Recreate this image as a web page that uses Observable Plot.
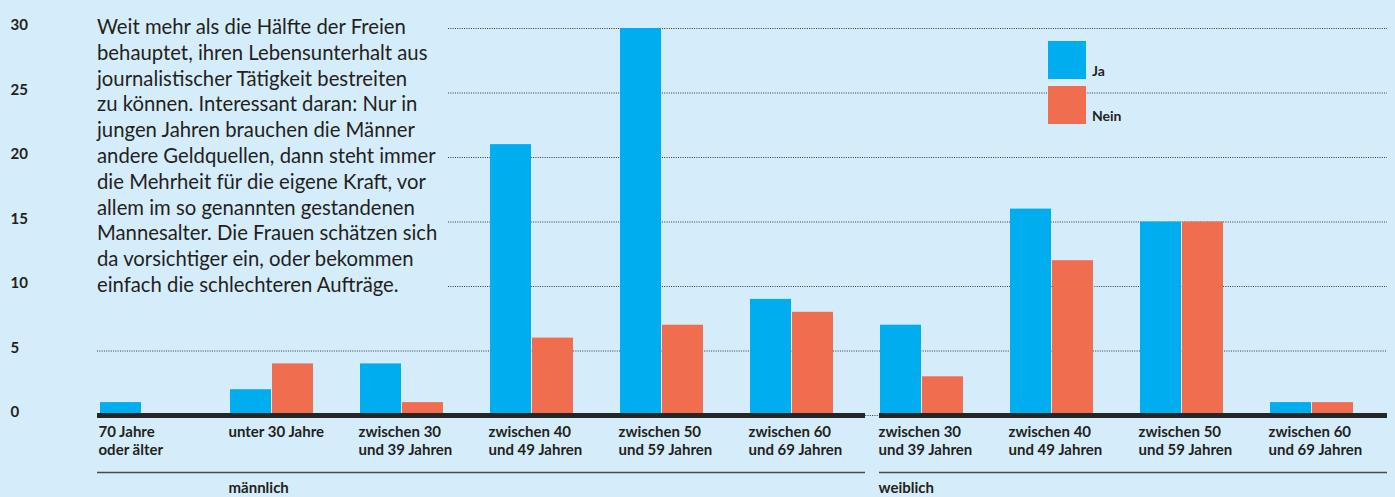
<!DOCTYPE html>
<html lang="de">
<head>
<meta charset="utf-8">
<script src="https://cdn.jsdelivr.net/npm/d3@7"></script>
<script src="https://cdn.jsdelivr.net/npm/@observablehq/plot@0.6"></script>
<style>
  html, body { margin: 0; padding: 0; background: #d5edfa; }
  #wrap { position: relative; width: 1395px; height: 497px; overflow: hidden;
          font-family: Lato, "Open Sans", sans-serif; color: #231f20; }
  #chart svg { display: block; }
  #note { position: absolute; left: 97px; top: 14px; font-size: 20.3px; line-height: 25.8px; white-space: nowrap; }
  #legend { position: absolute; left: 1048px; top: 41px; }
  #legend .item { display: flex; align-items: flex-end; height: 38px; margin-bottom: 7px; }
  #legend .sw { width: 38px; height: 38px; }
  #legend .lbl { margin-left: 6px; font-weight: bold; font-size: 14px; line-height: 1; margin-bottom: 1px; }
</style>
</head>
<body>
<div id="wrap">
  <div id="chart"></div>
  <div id="note">Weit mehr als die Hälfte der Freien<br>behauptet, ihren Lebensunterhalt aus<br>journalistischer Tätigkeit bestreiten<br>zu können. Interessant daran: Nur in<br>jungen Jahren brauchen die Männer<br>andere Geldquellen, dann steht immer<br>die Mehrheit für die eigene Kraft, vor<br>allem im so genannten gestandenen<br>Mannesalter. Die Frauen schätzen sich<br>da vorsichtiger ein, oder bekommen<br>einfach die schlechteren Aufträge.</div>
  <div id="legend"></div>
</div>
<script>
// Age groups per gender (tick labels, two lines where needed)
const maleAges = ["70 Jahre\noder älter", "unter 30 Jahre", "zwischen 30\nund 39 Jahren",
                  "zwischen 40\nund 49 Jahren", "zwischen 50\nund 59 Jahren", "zwischen 60\nund 69 Jahren"];
const femaleAges = ["zwischen 30\nund 39 Jahren", "zwischen 40\nund 49 Jahren",
                    "zwischen 50\nund 59 Jahren", "zwischen 60\nund 69 Jahren"];

// Answers: can they live from journalism? (counts)
const maleJa = [1, 2, 4, 21, 30, 9];
const maleNein = [0, 4, 1, 6, 7, 8];
const femaleJa = [7, 16, 15, 1];
const femaleNein = [3, 12, 15, 1];

const genders = ["männlich", "weiblich"];
const genderLabelAt = ["unter 30 Jahre", "zwischen 30\nund 39 Jahren"];
const seriesNames = ["Ja", "Nein"];
const seriesColors = ["#00aeef", "#f06d4f"];
const yTicks = [0, 5, 10, 15, 20, 25, 30];

// Build the table: one row per gender/age group
const rows = [];
maleAges.forEach((age, i) => rows.push({key: `${genders[0]}|${age}`, ja: maleJa[i], nein: maleNein[i]}));
femaleAges.forEach((age, i) => rows.push({key: `${genders[1]}|${age}`, ja: femaleJa[i], nein: femaleNein[i]}));
const keys = rows.map(d => d.key);
const genderLabels = genders.map((g, i) => ({key: `${g}|${genderLabelAt[i]}`, label: g}));

const grid = {stroke: "#33383d", strokeWidth: 1, strokeDasharray: "1,1.3"};
const base = {stroke: "#262626", strokeWidth: 5};
const under = {stroke: "#4a4a4a", strokeWidth: 1.5, dy: 57};
// horizontal extents of the male / female block (relative to the frame)
const maleSpan = {insetLeft: -3, insetRight: 488};
const femaleSpan = {insetLeft: 779, insetRight: -34};

const chart = Plot.plot({
  width: 1395,
  height: 497,
  marginLeft: 100,
  marginRight: 42,
  marginTop: 28,
  marginBottom: 82,
  style: {background: "transparent", fontFamily: "Lato, 'Open Sans', sans-serif", color: "#231f20", overflow: "visible"},
  x: {type: "band", domain: keys, paddingInner: 47 / 130, paddingOuter: 0, round: false},
  y: {domain: [0, 30]},
  marks: [
    Plot.ruleY([10, 15, 20, 25, 30], {...grid, insetLeft: 348, insetRight: -34}),
    Plot.ruleY([0, 5], {...grid, insetLeft: -3, insetRight: -34}),
    Plot.barY(rows, {x: "key", y: "ja", fill: seriesColors[0], insetRight: 42}),
    Plot.barY(rows, {x: "key", y: "nein", fill: seriesColors[1], insetLeft: 42}),
    Plot.ruleY([0], {...base, ...maleSpan}),
    Plot.ruleY([0], {...base, ...femaleSpan}),
    Plot.ruleY([0], {...under, ...maleSpan}),
    Plot.ruleY([0], {...under, ...femaleSpan}),
    Plot.axisX({
      tickSize: 0, tickPadding: 9, textAnchor: "start", dx: -43.5, lineAnchor: "top",
      fontSize: 15, fontWeight: "bold", lineHeight: 1.18,
      tickFormat: k => k.split("|")[1], label: null
    }),
    Plot.axisY({
      ticks: yTicks, tickSize: 0, tickPadding: 90, textAnchor: "start", dy: -3,
      fontSize: 15, fontWeight: "bold", label: null
    }),
    Plot.text(genderLabels, {
      x: "key", text: "label", frameAnchor: "bottom", lineAnchor: "top",
      dy: 67, dx: -43.5, textAnchor: "start", fontSize: 15, fontWeight: "bold"
    })
  ]
});
document.getElementById("chart").append(chart);

// Legend
const legend = document.getElementById("legend");
seriesNames.forEach((name, i) => {
  const item = document.createElement("div");
  item.className = "item";
  const sw = document.createElement("div");
  sw.className = "sw";
  sw.style.background = seriesColors[i];
  const lbl = document.createElement("div");
  lbl.className = "lbl";
  lbl.textContent = name;
  item.append(sw, lbl);
  legend.append(item);
});
</script>
</body>
</html>
